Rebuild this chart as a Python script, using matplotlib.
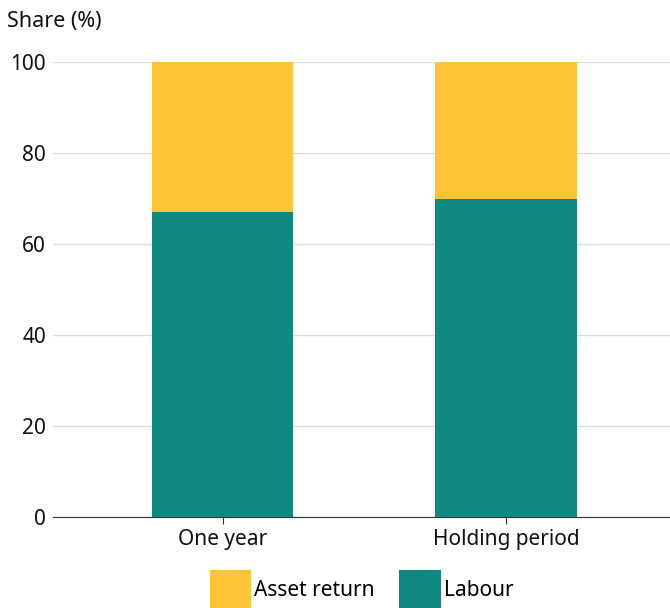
import numpy as np
import matplotlib.pyplot as plt

plt.rcParams['font.family'] = ['Noto Sans', 'DejaVu Sans']

categories = ['One year', 'Holding period']
labour = [67, 70]
asset_return = [33, 30]

yellow = '#FFC435'
teal = '#0F8880'


def main():
    fig = plt.figure(figsize=(6.7, 6.08), dpi=100)
    ax = fig.add_axes([53 / 670, 1 - 517 / 608, 1 - 53 / 670, (517 - 62) / 608])

    x = np.arange(len(categories))
    ax.bar(x, labour, width=0.5, color=teal, label='Labour', zorder=3)
    ax.bar(x, asset_return, width=0.5, bottom=labour, color=yellow,
           label='Asset return', zorder=3)

    ax.set_xlim(-0.597, 1.576)
    ax.set_ylim(0, 100)
    ax.set_yticks([0, 20, 40, 60, 80, 100])
    ax.set_xticks(x)
    ax.set_xticklabels(categories)
    ax.grid(axis='y', color='#dddddd', linewidth=1, zorder=0)

    for s in ['top', 'right', 'left']:
        ax.spines[s].set_visible(False)
    ax.spines['bottom'].set_color('#333333')
    ax.tick_params(axis='y', length=0, labelsize=15, pad=5, colors='#111111')
    ax.tick_params(axis='x', length=5, color='#333333', labelsize=15,
                   pad=4, labelcolor='#111111')

    fig.text(7 / 670, 1 - 21 / 608, 'Share (%)', fontsize=15.5,
             va='center', ha='left', color='#111111')

    # legend centred under the plot area
    handles, labels = ax.get_legend_handles_labels()
    fig.legend(handles[::-1], labels[::-1], loc='lower center',
               bbox_to_anchor=(361.5 / 670, 0.0), ncol=2, frameon=False,
               fontsize=15, handlelength=2.0, handleheight=2.4,
               handletextpad=0.15, columnspacing=1.15, borderpad=0,
               borderaxespad=0)

    fig.savefig('out.png', dpi=100)


if __name__ == '__main__':
    main()
